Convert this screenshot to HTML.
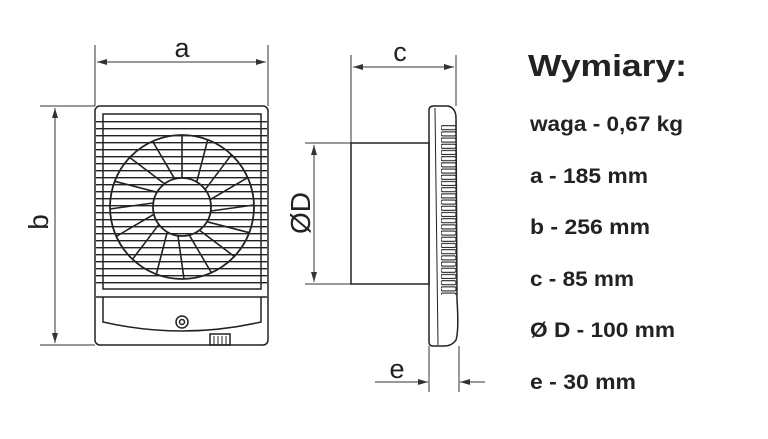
<!DOCTYPE html>
<html><head><meta charset="utf-8"><style>
html,body{margin:0;padding:0;background:#fff;width:768px;height:439px;overflow:hidden}
svg{display:block}
.t{font-family:"Liberation Sans",sans-serif;font-weight:bold;fill:#222}
.n{font-family:"Liberation Sans",sans-serif;fill:#222}
</style></head><body>
<svg width="768" height="439" viewBox="0 0 768 439">
<defs>
<pattern id="gr" x="0" y="121" width="10" height="7" patternUnits="userSpaceOnUse">
<line x1="0" y1="0.7" x2="10" y2="0.7" stroke="#222" stroke-width="1.4"/>
</pattern>
<pattern id="lv" x="440" y="125" width="20" height="6.2" patternUnits="userSpaceOnUse">
<rect x="1" y="0.7" width="15" height="4" rx="1.5" fill="none" stroke="#222" stroke-width="1.1"/>
</pattern>
<marker id="ar" viewBox="0 0 10 6" refX="10" refY="3" markerWidth="10" markerHeight="6" orient="auto-start-reverse" markerUnits="userSpaceOnUse">
<path d="M0,0 L10,3 L0,6 z" fill="#333"/>
</marker>
</defs>
<g stroke="#222" fill="none" stroke-width="1.5">
<rect x="95" y="106" width="173" height="239" rx="5"/>
<rect x="103" y="114" width="158" height="175"/>
<rect x="96" y="121" width="171" height="167" fill="url(#gr)" stroke="none"/>
<line x1="96" y1="297" x2="267" y2="297"/>
<circle cx="182" cy="207" r="72" stroke-width="1.8"/>
<circle cx="182" cy="207" r="29" stroke-width="1.8"/>
<g stroke-width="1.6">
<line x1="182" y1="178" x2="182" y2="135"/>
<g transform="rotate(22.5 182 207)"><line x1="186" y1="178" x2="180" y2="135"/></g>
<g transform="rotate(45 182 207)"><line x1="186" y1="178" x2="180" y2="135"/></g>
<g transform="rotate(67.5 182 207)"><line x1="186" y1="178" x2="180" y2="135"/></g>
<g transform="rotate(90 182 207)"><line x1="186" y1="178" x2="180" y2="135"/></g>
<g transform="rotate(112.5 182 207)"><line x1="186" y1="178" x2="180" y2="135"/></g>
<g transform="rotate(135 182 207)"><line x1="186" y1="178" x2="180" y2="135"/></g>
<g transform="rotate(157.5 182 207)"><line x1="186" y1="178" x2="180" y2="135"/></g>
<g transform="rotate(180 182 207)"><line x1="186" y1="178" x2="180" y2="135"/></g>
<g transform="rotate(202.5 182 207)"><line x1="186" y1="178" x2="180" y2="135"/></g>
<g transform="rotate(225 182 207)"><line x1="186" y1="178" x2="180" y2="135"/></g>
<g transform="rotate(247.5 182 207)"><line x1="186" y1="178" x2="180" y2="135"/></g>
<g transform="rotate(270 182 207)"><line x1="186" y1="178" x2="180" y2="135"/></g>
<g transform="rotate(292.5 182 207)"><line x1="186" y1="178" x2="180" y2="135"/></g>
<g transform="rotate(315 182 207)"><line x1="186" y1="178" x2="180" y2="135"/></g>
<g transform="rotate(337.5 182 207)"><line x1="186" y1="178" x2="180" y2="135"/></g>
</g>
<path d="M103,297 L103,322 Q182,340 261,322 L261,297"/>
<circle cx="182" cy="322" r="6"/>
<circle cx="182" cy="322" r="2.5"/>
<rect x="210" y="334" width="20" height="11"/>
<path d="M214,336 V345 M218,336 V345 M222,336 V345 M226,336 V345" stroke-width="1"/>
<g stroke="#333" stroke-width="1">
<line x1="95" y1="45" x2="95" y2="106"/>
<line x1="268" y1="45" x2="268" y2="106"/>
<line x1="97" y1="62" x2="266" y2="62" marker-start="url(#ar)" marker-end="url(#ar)"/>
<line x1="40" y1="106" x2="95" y2="106"/>
<line x1="40" y1="345" x2="95" y2="345"/>
<line x1="55" y1="108" x2="55" y2="343" marker-start="url(#ar)" marker-end="url(#ar)"/>
<line x1="351" y1="55" x2="351" y2="143"/>
<line x1="456" y1="55" x2="456" y2="106"/>
<line x1="353" y1="67" x2="454" y2="67" marker-start="url(#ar)" marker-end="url(#ar)"/>
<line x1="305" y1="143" x2="351" y2="143"/>
<line x1="305" y1="284" x2="351" y2="284"/>
<line x1="314" y1="145" x2="314" y2="282" marker-start="url(#ar)" marker-end="url(#ar)"/>
<line x1="429" y1="346" x2="429" y2="392"/>
<line x1="459" y1="346" x2="459" y2="392"/>
<line x1="375" y1="382" x2="428" y2="382" marker-end="url(#ar)"/>
<line x1="485" y1="382" x2="460" y2="382" marker-end="url(#ar)"/>
</g>
<rect x="351" y="143" width="78" height="141"/>
<path d="M429,110 Q429,106 434,106 L448,106 Q456,108 456,118 L457,300 Q459,330 456,340 Q452,346 444,346 L433,346 Q429,346 429,342 Z"/>
<line x1="435" y1="108" x2="438" y2="345" stroke-width="1"/>
<rect x="441" y="125" width="17" height="170" fill="url(#lv)" stroke="none"/>
</g>
<text class="n" x="182" y="57" font-size="27" text-anchor="middle">a</text>
<text class="n" x="400" y="61" font-size="27" text-anchor="middle">c</text>
<text class="n" x="397" y="378" font-size="27" text-anchor="middle">e</text>
<text class="n" transform="translate(48,222) rotate(-90)" font-size="28" text-anchor="middle">b</text>
<text class="n" transform="translate(310,213) rotate(-90)" font-size="28" text-anchor="middle">ØD</text>
<text class="t" x="528" y="76" font-size="31" textLength="159" lengthAdjust="spacingAndGlyphs">Wymiary:</text>
<text class="t" x="530" y="131" font-size="21" textLength="153" lengthAdjust="spacingAndGlyphs">waga - 0,67 kg</text>
<text class="t" x="530" y="183" font-size="21" textLength="118" lengthAdjust="spacingAndGlyphs">a - 185 mm</text>
<text class="t" x="530" y="234" font-size="21" textLength="120" lengthAdjust="spacingAndGlyphs">b - 256 mm</text>
<text class="t" x="530" y="286" font-size="21" textLength="104" lengthAdjust="spacingAndGlyphs">c - 85 mm</text>
<text class="t" x="530" y="337" font-size="21" textLength="145" lengthAdjust="spacingAndGlyphs">Ø D - 100 mm</text>
<text class="t" x="530" y="389" font-size="21" textLength="106" lengthAdjust="spacingAndGlyphs">e - 30 mm</text>
</svg>
</body></html>
